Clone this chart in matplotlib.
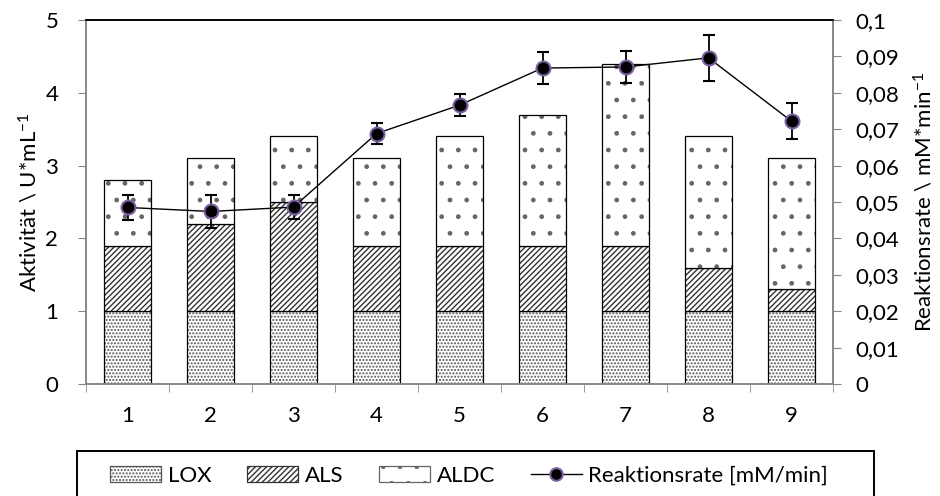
import matplotlib.pyplot as plt
from matplotlib.ticker import FuncFormatter, MultipleLocator
from matplotlib.lines import Line2D
from matplotlib.patches import Rectangle
import numpy as np

plt.rcParams['font.family'] = ['Lato', 'DejaVu Sans']
plt.rcParams['mathtext.default'] = 'regular'
plt.rcParams['hatch.linewidth'] = 1.0

# data
samples = ['1', '2', '3', '4', '5', '6', '7', '8', '9']
lox = [1.0, 1.0, 1.0, 1.0, 1.0, 1.0, 1.0, 1.0, 1.0]
als = [0.9, 1.2, 1.5, 0.9, 0.9, 0.9, 0.9, 0.6, 0.3]
aldc = [0.9, 0.9, 0.9, 1.2, 1.5, 1.8, 2.5, 1.8, 1.8]
rate = [0.0485, 0.0474, 0.0486, 0.0688, 0.0766, 0.0868, 0.0871, 0.0896, 0.0722]
rate_err = [0.0035, 0.0045, 0.0033, 0.003, 0.003, 0.0045, 0.0045, 0.0063, 0.005]

x = np.arange(len(samples))
lox_a = np.array(lox)
als_a = np.array(als)
aldc_a = np.array(aldc)

W, H = 940, 496
fig = plt.figure(figsize=(W / 100, H / 100), dpi=100)
ax = fig.add_axes([86 / W, 1 - 384 / H, (833 - 86) / W, (384 - 20) / H])
gray = '#878787'
fs = 16

w = 0.57
stacks = [
    (lox_a, np.zeros(len(x)), '.....', '#555555'),
    (als_a, lox_a, '//////', '#333333'),
    (aldc_a, lox_a + als_a, '.', '#666666'),
]
handles = []
for vals, bottom, hatch, hcol in stacks:
    # hatch drawn in its own colour, black outline on top
    ax.bar(x, vals, w, bottom=bottom, color='white', edgecolor=hcol, hatch=hatch, linewidth=0)
    ax.bar(x, vals, w, bottom=bottom, color='none', edgecolor='black', linewidth=0.9)
    handles.append(Rectangle((0, 0), 1, 1, facecolor='white', edgecolor=hcol, hatch=hatch,
                             linewidth=0.9))

ax.set_xlim(-0.5, len(samples) - 0.5)
ax.set_ylim(0, 5)
ax.yaxis.set_major_locator(MultipleLocator(1))
ax.set_xticks(x)
ax.set_xticklabels(samples)
ax.set_xticks(np.arange(len(samples) + 1) - 0.5, minor=True)
ax.tick_params(axis='x', which='major', length=0, pad=16, labelsize=fs)
ax.tick_params(axis='x', which='minor', length=6, color=gray, direction='out')
ax.tick_params(axis='y', length=6, color=gray, labelsize=fs, pad=14)
ax.set_ylabel('Aktivität \\ U*mL$^{-1}$', fontsize=fs, labelpad=3)

ax2 = ax.twinx()
ax2.errorbar(x, rate, yerr=rate_err, color='black', lw=1, marker='o', markersize=10,
             markerfacecolor='black', markeredgecolor='#7a5ea0', markeredgewidth=1.5,
             ecolor='black', elinewidth=1.3, capsize=4.5, capthick=1.3)
ax2.set_ylim(0, 0.1)
ax2.yaxis.set_major_locator(MultipleLocator(0.01))
ax2.yaxis.set_major_formatter(FuncFormatter(lambda v, p: ('%g' % round(v, 3)).replace('.', ',')))
ax2.tick_params(axis='y', length=6, color=gray, labelsize=fs, pad=10)
ax2.set_ylabel('Reaktionsrate \\ mM*min$^{-1}$', fontsize=fs, labelpad=10)

for a in (ax, ax2):
    for s in ('left', 'right', 'bottom'):
        a.spines[s].set_color(gray)
        a.spines[s].set_linewidth(1.2)
    a.spines['top'].set_color('black')
    a.spines['top'].set_linewidth(1.2)

handles.append(Line2D([], [], color='black', lw=1, marker='o', markersize=9,
                      markerfacecolor='black', markeredgecolor='#7a5ea0', markeredgewidth=1.5))
labels = ['LOX', 'ALS', 'ALDC', 'Reaktionsrate [mM/min]']
fig.legend(handles, labels, loc='center left', bbox_to_anchor=(110 / W, 1 - 476 / H),
           ncol=4, fontsize=fs, frameon=False, borderpad=0, borderaxespad=0,
           handlelength=2.3, handletextpad=0.3, columnspacing=1.6)
# legend box runs past the bottom edge like in the original
fig.add_artist(Rectangle((77 / W, -0.05), (874 - 77) / W, 0.05 + 1 - 451 / H,
                         transform=fig.transFigure, fill=False, edgecolor='black',
                         linewidth=1.4, clip_on=False))

fig.savefig('out.png', dpi=100)
